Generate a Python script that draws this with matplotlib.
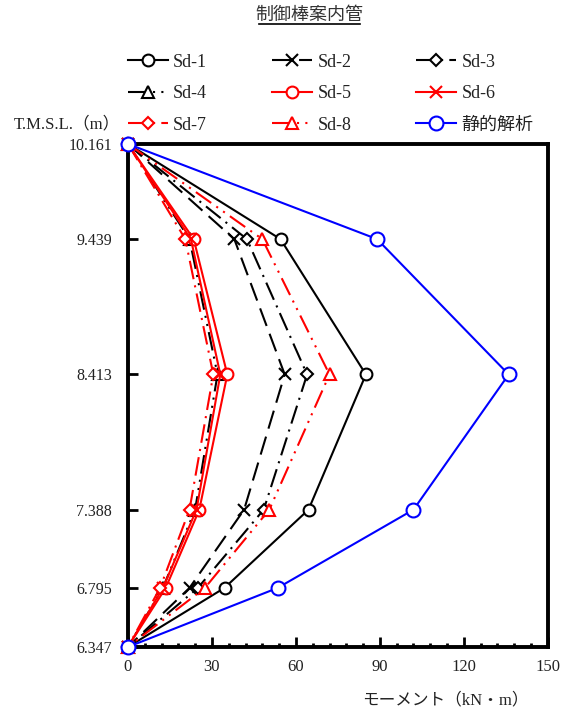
import numpy as np
import matplotlib.pyplot as plt
from matplotlib.ticker import MultipleLocator

plt.rcParams['font.family'] = ['Liberation Serif', 'Noto Sans CJK JP']

levels = [10.161, 9.439, 8.413, 7.388, 6.795, 6.347]
level_labels = ['10.161', '9.439', '8.413', '7.388', '6.795', '6.347']

sd1 = [0, 54.5, 85, 64.5, 34.5, 0]
sd2 = [0, 38, 56, 41.5, 22, 0]
sd3 = [0, 42.5, 64, 48.5, 25, 0]
sd4 = [0, 22, 32, 24, 12.5, 0]
sd5 = [0, 23.5, 35.5, 25.5, 13.5, 0]
sd6 = [0, 22.5, 33, 24.5, 12.5, 0]
sd7 = [0, 20.5, 30.5, 22, 11.5, 0]
sd8 = [0, 48, 72, 50.5, 27.5, 0]
static = [0, 89, 136, 102, 53.5, 0]

fig = plt.figure(figsize=(5.66, 7.16), dpi=100)
ax = fig.add_axes([0.226, 0.0964, 0.742, 0.7026])

dashdot = (0, (9, 3, 1, 3))
dashdotdot = (0, (9, 3, 1, 3, 1, 3))
series = [
    (sd1, 'Sd-1', 'black', '-', 'o'),
    (sd2, 'Sd-2', 'black', (0, (9, 4)), 'x'),
    (sd3, 'Sd-3', 'black', dashdot, 'D'),
    (sd4, 'Sd-4', 'black', dashdotdot, '^'),
    (sd5, 'Sd-5', 'red', '-', 'o'),
    (sd6, 'Sd-6', 'red', '-', 'x'),
    (sd7, 'Sd-7', 'red', dashdot, 'D'),
    (sd8, 'Sd-8', 'red', dashdotdot, '^'),
    (static, '静的解析', 'blue', '-', 'o'),
]

for vals, name, col, ls, mk in series:
    ms = 8.5
    if mk == 'D':
        ms = 6
    if col == 'blue':
        ms = 10
    ax.plot(vals, levels, color=col, linestyle=ls, linewidth=1.5, marker=mk,
            markersize=ms, markerfacecolor='white', markeredgecolor=col,
            markeredgewidth=1.5, label=name, clip_on=False, zorder=3)

ax.set_xlim(0, 150)
ax.set_ylim(6.347, 10.161)
ax.set_yticks(levels)
ax.set_yticklabels(level_labels)
ax.xaxis.set_major_locator(MultipleLocator(30))
ax.xaxis.set_minor_locator(MultipleLocator(6))
ax.tick_params(axis='both', which='major', direction='in', length=7, width=2,
               labelsize=12, labelcolor='#222222')
ax.tick_params(axis='y', pad=11.5, labelsize=11.5)
ax.tick_params(axis='x', pad=9)
ax.tick_params(axis='x', which='minor', direction='in', length=3, width=2)
for sp in ax.spines.values():
    sp.set_linewidth(2.8)

fig.text(0.547, 0.979, '制御棒案内管', ha='center', va='center', fontsize=13,
         color='#333333')
fig.add_artist(plt.Line2D([0.458, 0.636], [0.966, 0.966], color='black',
                          linewidth=1.2))
fig.text(0.212, 0.826, 'T.M.S.L.（m）', ha='right', va='center', fontsize=12,
         color='#222222')
fig.text(0.786, 0.022, 'モーメント（kN・m）', ha='center', va='center', fontsize=12,
         color='#222222')

handles, labels = ax.get_legend_handles_labels()
order = [0, 3, 6, 1, 4, 7, 2, 5, 8]
leg = fig.legend([handles[i] for i in order], [labels[i] for i in order],
                 ncol=3, loc='upper left', bbox_to_anchor=(0.226, 0.925),
                 frameon=False, fontsize=13, borderaxespad=0, borderpad=0,
                 handlelength=2.2, columnspacing=3.6, labelspacing=0.8,
                 handletextpad=0.3)
for t in leg.get_texts():
    t.set_color('#222222')

fig.savefig('out.png', dpi=100)
